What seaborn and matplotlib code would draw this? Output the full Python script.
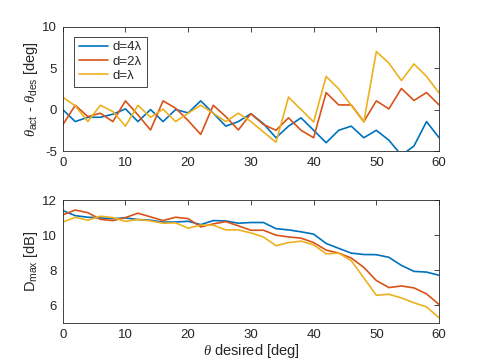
import numpy as np
import pandas as pd
import matplotlib
matplotlib.use("Agg")
import matplotlib.pyplot as plt
import seaborn as sns

theta = list(range(0, 61, 2))
labels = ["d=4λ", "d=2λ", "d=λ"]

err_4 = [0.0, -1.45, -0.93, -0.93, -0.56, 0.08, -1.45, 0.0, -1.45, 0.0, -0.4, 1.05, -0.44, -2.0, -1.45, -0.5,
         -1.7, -3.4, -2.0, -1.0, -2.5, -4.0, -2.5, -2.0, -3.4, -2.5, -3.7, -5.5, -4.4, -1.45, -3.4]
err_2 = [-1.85, 0.52, -0.85, -0.44, -1.45, 1.05, -0.65, -2.46, 1.05, 0.16, -1.33, -3.0, 0.52, -0.85, -2.46, -0.5,
         -1.8, -2.5, -1.0, -2.5, -3.4, 2.05, 0.56, 0.56, -1.45, 1.05, 0.08, 2.54, 1.1, 2.05, 0.56]
err_1 = [1.5, 0.44, -1.45, 0.52, -0.24, -2.0, 0.52, -0.93, 0.04, -1.45, -0.44, 0.52, -0.44, -1.45, -0.44, -1.45,
         -2.7, -3.95, 1.5, 0.0, -1.5, 4.0, 2.5, 0.5, -1.5, 7.0, 5.6, 3.5, 5.5, 4.0, 2.0]

dmax_4 = [11.4, 11.11, 11.02, 10.98, 10.94, 10.98, 10.89, 10.85, 10.74, 10.75, 10.79, 10.6, 10.83, 10.81, 10.68, 10.72,
          10.72, 10.37, 10.3, 10.19, 10.06, 9.53, 9.25, 8.98, 8.9, 8.89, 8.74, 8.28, 7.94, 7.9, 7.72]
dmax_2 = [11.15, 11.43, 11.28, 10.9, 10.83, 11.0, 11.25, 11.04, 10.83, 11.02, 10.94, 10.47, 10.64, 10.77, 10.53, 10.28,
          10.28, 10.0, 9.9, 9.83, 9.58, 9.15, 8.98, 8.7, 8.17, 7.42, 7.02, 7.11, 7.0, 6.66, 6.06]
dmax_1 = [10.74, 11.02, 10.85, 11.08, 11.0, 10.79, 10.89, 10.81, 10.68, 10.7, 10.4, 10.57, 10.57, 10.3, 10.3, 10.13,
          9.9, 9.4, 9.58, 9.66, 9.45, 8.94, 8.98, 8.55, 7.57, 6.58, 6.64, 6.43, 6.15, 5.92, 5.3]

xticks = [0, 10, 20, 30, 40, 50, 60]
yticks_top = [-5, 0, 5, 10]
yticks_bot = [6, 8, 10, 12]

colors = ["#0072BD", "#D95319", "#EDB120"]

df_err = pd.DataFrame({
    "theta": theta * 3,
    "val": err_4 + err_2 + err_1,
    "design": [labels[0]] * len(theta) + [labels[1]] * len(theta) + [labels[2]] * len(theta),
})
df_d = pd.DataFrame({
    "theta": theta * 3,
    "val": dmax_4 + dmax_2 + dmax_1,
    "design": [labels[0]] * len(theta) + [labels[1]] * len(theta) + [labels[2]] * len(theta),
})

sns.set_style("white")
plt.rcParams["font.family"] = ["Liberation Sans", "DejaVu Sans"]
plt.rcParams["mathtext.fontset"] = "custom"
plt.rcParams["mathtext.rm"] = "Liberation Sans"
plt.rcParams["mathtext.it"] = "Liberation Serif:italic"
plt.rcParams["mathtext.bf"] = "Liberation Sans:bold"

fig = plt.figure(figsize=(4.85, 3.63), dpi=100)
fig.patch.set_facecolor("white")
ax1 = fig.add_axes([0.1293, 0.584, 0.776, 0.3425])
ax2 = fig.add_axes([0.1293, 0.110, 0.776, 0.339])

pal = dict(zip(labels, colors))
sns.lineplot(data=df_err, x="theta", y="val", hue="design", palette=pal, ax=ax1,
             linewidth=1.2, legend=True, estimator=None, sort=False)
sns.lineplot(data=df_d, x="theta", y="val", hue="design", palette=pal, ax=ax2,
             linewidth=1.2, legend=False, estimator=None, sort=False)

edge = "#262626"
for ax, yt, ylim in [(ax1, yticks_top, (-5, 10)), (ax2, yticks_bot, (5, 12))]:
    ax.set_xlim(0, 60)
    ax.set_ylim(*ylim)
    ax.set_xticks(xticks)
    ax.set_yticks(yt)
    ax.set_xticklabels([str(t) for t in xticks])
    ax.set_yticklabels([str(t) for t in yt])
    ax.tick_params(direction="in", length=3.5, width=0.6, color=edge, labelsize=9.5,
                   labelcolor=edge, top=True, right=True, pad=4)
    for s in ax.spines.values():
        s.set_visible(True)
        s.set_color(edge)
        s.set_linewidth(0.6)
    ax.set_xlabel("")
    ax.set_facecolor("white")

ax1.set_ylabel(r"$\theta_{\rm act}$ - $\theta_{\rm des}$ [deg]", fontsize=10.5, color=edge, labelpad=2)
ax2.set_ylabel(r"D$_{\rm max}$ [dB]", fontsize=10.5, color=edge, labelpad=2)
ax2.set_xlabel(r"$\theta$ desired [deg]", fontsize=10.5, color=edge, labelpad=1)

leg = ax1.legend(loc="upper left", bbox_to_anchor=(0.03, 0.92), borderaxespad=0,
                 fontsize=9.5, frameon=True, fancybox=False, framealpha=1,
                 handlelength=2.2, handletextpad=0.4, borderpad=0.35, labelspacing=0.15,
                 title=None)
leg.get_frame().set_edgecolor(edge)
leg.get_frame().set_linewidth(0.6)
for t in leg.get_texts():
    t.set_color(edge)

fig.savefig("out.png", dpi=100, facecolor="white")
